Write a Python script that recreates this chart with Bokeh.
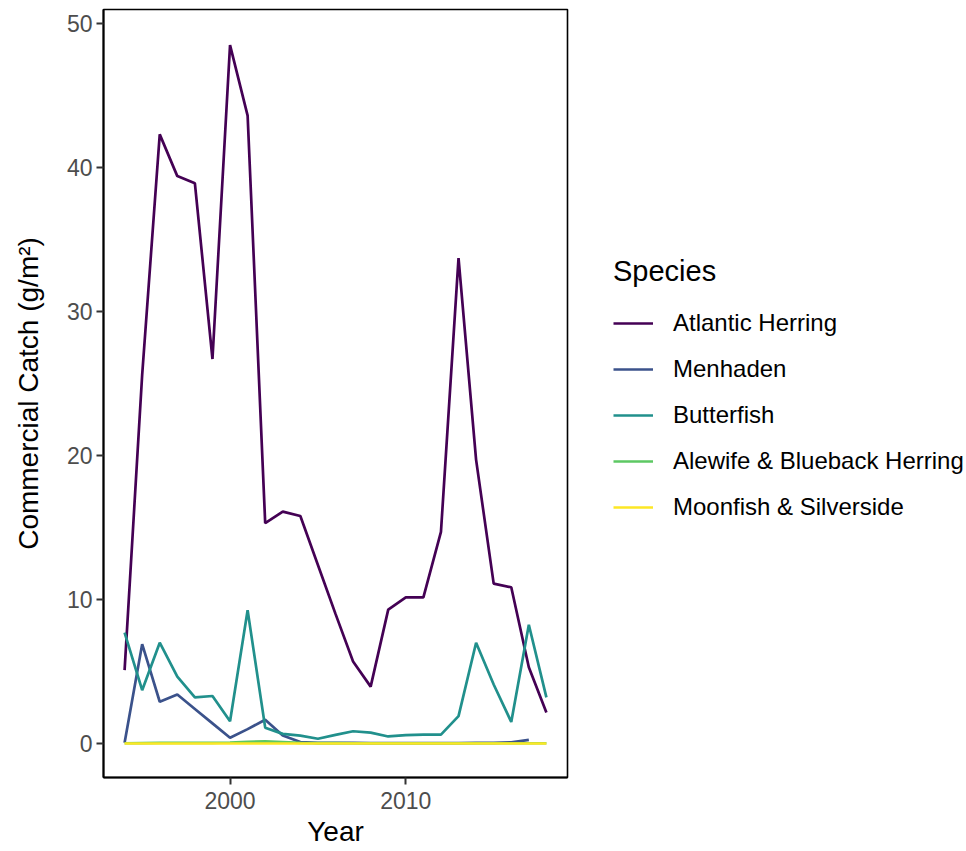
from bokeh.plotting import figure
from bokeh.layouts import row
from bokeh.models import Legend, LegendItem, Range1d, FixedTicker
from bokeh.embed import file_html
from bokeh.resources import INLINE

years = list(range(1994, 2019))
atlantic_herring = [5.1, 25.6, 42.3, 39.4, 38.9, 26.7, 48.5, 43.6, 15.3, 16.1, 15.8,
                    12.4, 9.0, 5.7, 3.95, 9.3, 10.15, 10.15, 14.7, 33.7, 19.7, 11.1,
                    10.85, 5.3, 2.15]
menhaden_years = list(range(1994, 2018))
menhaden = [0.05, 6.9, 2.9, 3.4, 2.4, 1.4, 0.4, 1.0, 1.65, 0.55, 0.1, 0.05, 0.04,
            0.04, 0.03, 0.03, 0.03, 0.03, 0.03, 0.03, 0.04, 0.05, 0.08, 0.25]
butterfish = [7.7, 3.7, 7.0, 4.65, 3.2, 3.3, 1.55, 9.25, 1.1, 0.67, 0.55, 0.33, 0.6,
              0.85, 0.76, 0.49, 0.58, 0.62, 0.62, 1.9, 7.0, 4.1, 1.5, 8.25, 3.2]
alewife = [0.02, 0.03, 0.04, 0.05, 0.04, 0.05, 0.07, 0.12, 0.15, 0.1, 0.05, 0.03,
           0.03, 0.02, 0.02, 0.02, 0.02, 0.02, 0.02, 0.02, 0.02, 0.02, 0.02, 0.02, 0.02]
moonfish = [0.0] * 25

species = ["Atlantic Herring", "Menhaden", "Butterfish",
           "Alewife & Blueback Herring", "Moonfish & Silverside"]
colors = ["#440154", "#3B528B", "#21908C", "#5DC863", "#FDE725"]
series_x = [years, menhaden_years, years, years, years]
series_y = [atlantic_herring, menhaden, butterfish, alewife, moonfish]

x_ticks = [2000, 2010]
y_ticks = [0, 10, 20, 30, 40, 50]

FONT = "Liberation Sans"
LINE_W = 2.7

p = figure(width=572, height=851, output_backend="svg",
           toolbar_location=None,
           x_range=Range1d(1992.8, 2019.2), y_range=Range1d(-2.36, 50.97),
           min_border_left=103, min_border_top=9, min_border_right=5,
           min_border_bottom=74, background_fill_color="white",
           border_fill_color="white")

p.xgrid.visible = False
p.ygrid.visible = False
p.outline_line_color = "black"
p.outline_line_width = 1.6
p.outline_line_alpha = 1.0

for xs, ys, c in zip(series_x, series_y, colors):
    p.line(xs, ys, line_color=c, line_width=LINE_W)

for ax in (p.xaxis[0], p.yaxis[0]):
    ax.axis_line_color = "black"
    ax.axis_line_width = 2
    ax.major_tick_line_color = "#333333"
    ax.major_tick_line_width = 2
    ax.major_tick_out = 7
    ax.major_tick_in = 0
    ax.minor_tick_line_color = None
    ax.major_label_text_font = FONT
    ax.major_label_text_font_size = "23px"
    ax.major_label_text_color = "#4D4D4D"
    ax.axis_label_text_font = FONT
    ax.axis_label_text_font_size = "28px"
    ax.axis_label_text_font_style = "normal"
    ax.axis_label_text_color = "black"

p.xaxis.ticker = FixedTicker(ticks=x_ticks)
p.yaxis.ticker = FixedTicker(ticks=y_ticks)
p.xaxis.axis_label = "Year"
p.yaxis.axis_label = "Commercial Catch (g/m\u00b2)"
p.xaxis.major_label_standoff = 7
p.yaxis.major_label_standoff = 4
p.xaxis.axis_label_standoff = 4
p.yaxis.axis_label_standoff = 20

# Legend-only panel to the right (its frame is aligned with the main frame)
lp = figure(width=392, height=851, output_backend="svg", toolbar_location=None,
            x_range=Range1d(0, 1), y_range=Range1d(0, 1),
            x_axis_location=None, y_axis_location=None,
            min_border_left=0, min_border_right=0, min_border_top=0,
            min_border_bottom=0, background_fill_color="white",
            border_fill_color="white")
lp.xgrid.visible = False
lp.ygrid.visible = False
lp.outline_line_color = None

nan = float("nan")
legend_renderers = [lp.line([nan], [nan], line_color=c, line_width=LINE_W)
                    for c in colors]
items = [LegendItem(label=s, renderers=[r]) for s, r in zip(species, legend_renderers)]
legend = Legend(items=items, location=(41, 247), title="Species",
                title_text_font=FONT, title_text_font_size="29px",
                title_text_font_style="normal", title_text_color="black",
                title_standoff=12,
                label_text_font=FONT, label_text_font_size="24px",
                label_text_color="black",
                glyph_width=40, glyph_height=46, label_height=46,
                label_standoff=20, spacing=0, padding=0, margin=0,
                border_line_color=None, background_fill_alpha=0)
lp.add_layout(legend, "center")

layout = row(p, lp)
open("out.html", "w").write(file_html(layout, INLINE))
